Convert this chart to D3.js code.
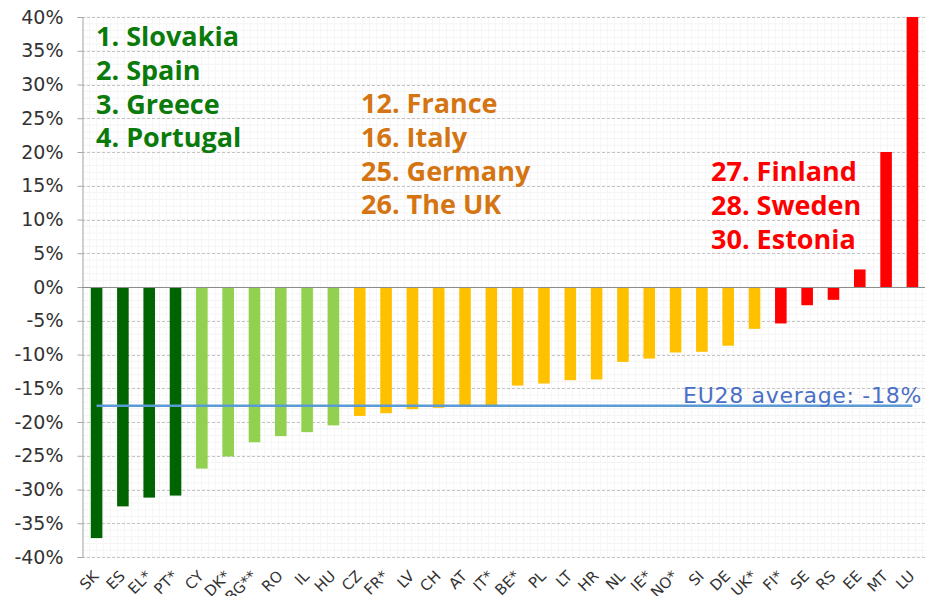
<!DOCTYPE html>
<html>
<head>
<meta charset="utf-8">
<script src="https://cdn.jsdelivr.net/npm/d3@7"></script>
<style>
  html, body { margin: 0; padding: 0; background: #fff; }
  svg { display: block; }
</style>
</head>
<body>
<svg id="chart" width="927" height="596"></svg>
<script>
// ---- data ----
const categories = ["SK","ES","EL*","PT*","CY","DK*","BG**","RO","IL","HU","CZ","FR*","LV","CH","AT","IT*","BE*","PL","LT","HR","NL","IE*","NO*","SI","DE","UK*","FI*","SE","RS","EE","MT","LU"];
const values = [-37.2,-32.5,-31.2,-30.9,-26.9,-25.1,-23.0,-22.1,-21.5,-20.5,-19.1,-18.7,-18.1,-17.9,-17.6,-17.6,-14.6,-14.3,-13.8,-13.7,-11.1,-10.6,-9.7,-9.6,-8.7,-6.2,-5.4,-2.7,-1.9,2.6,20.0,40.0];
const groups = ["top","top","top","top","good","good","good","good","good","good","mid","mid","mid","mid","mid","mid","mid","mid","mid","mid","mid","mid","mid","mid","mid","mid","low","low","low","low","low","low"];
const yTicks = [40,35,30,25,20,15,10,5,0,-5,-10,-15,-20,-25,-30,-35,-40];
const euAverage = -17.6;
const euLabel = "EU28 average: -18%";
const legendTop = ["1. Slovakia","2. Spain","3. Greece","4. Portugal"];
const legendMid = ["12. France","16. Italy","25. Germany","26. The UK"];
const legendLow = ["27. Finland","28. Sweden","30. Estonia"];

const colors = {top:"#006400", good:"#92d050", mid:"#ffc000", low:"#ff0000"};

const svg = d3.select("#chart");
const x = d3.scaleBand().domain(categories).range([85, 924]).paddingInner(0.56).paddingOuter(0.22);
const y = d3.scaleLinear().domain([-40, 40]).range([557, 17]);
const left = 82, right = 925;

// minor faint grid
const minor = d3.range(-40, 40.01, 1);
svg.append("g").selectAll("line").data(minor).join("line")
  .attr("x1", left).attr("x2", right)
  .attr("y1", d => y(d)).attr("y2", d => y(d))
  .attr("stroke", "#f4f4f4").attr("stroke-width", 1);
const vminor = d3.range(left, right, 7);
svg.append("g").selectAll("line").data(vminor).join("line")
  .attr("x1", d => d + 0.5).attr("x2", d => d + 0.5)
  .attr("y1", 17).attr("y2", 557)
  .attr("stroke", "#f6f6f6").attr("stroke-width", 1);

// major grid
svg.append("g").selectAll("line").data(yTicks.filter(d => d !== 0)).join("line")
  .attr("x1", left).attr("x2", right)
  .attr("y1", d => Math.round(y(d)) + 0.5).attr("y2", d => Math.round(y(d)) + 0.5)
  .attr("stroke", "#c4c4c4").attr("stroke-width", 1).attr("stroke-dasharray", "3,2");

// y axis
const yAxis = d3.axisLeft(y).tickValues(yTicks).tickSize(5).tickFormat(d => d + "%");
const ga = svg.append("g").attr("transform", `translate(${left + 0.5},0)`).call(yAxis);
ga.select(".domain").attr("stroke", "#a6a6a6");
ga.selectAll(".tick line").attr("stroke", "#a6a6a6");
ga.selectAll(".tick text").attr("x", -19).attr("fill", "#333")
  .style("font-family", "'DejaVu Sans', Verdana, sans-serif").style("font-size", "19px");

// bars
svg.append("g").selectAll("rect").data(categories).join("rect")
  .attr("x", d => x(d))
  .attr("width", x.bandwidth())
  .attr("y", (d, i) => y(Math.max(0, values[i])))
  .attr("height", (d, i) => Math.abs(y(values[i]) - y(0)))
  .attr("fill", (d, i) => colors[groups[i]]);

// zero line
svg.append("line").attr("x1", left).attr("x2", right)
  .attr("y1", y(0) + 0.5).attr("y2", y(0) + 0.5)
  .attr("stroke", "#8c8c8c").attr("stroke-width", 1.2);

// x labels
svg.append("g").selectAll("text").data(categories).join("text")
  .attr("transform", d => `translate(${x(d) + x.bandwidth()/2 + 3},${577}) rotate(-45)`)
  .attr("text-anchor", "end")
  .attr("fill", "#333")
  .style("font-family", "'DejaVu Sans', Verdana, sans-serif").style("font-size", "15px")
  .text(d => d);

// average line
svg.append("line")
  .attr("x1", x(categories[0]) + x.bandwidth()/2)
  .attr("x2", x(categories[categories.length-1]) + x.bandwidth()/2)
  .attr("y1", y(euAverage)).attr("y2", y(euAverage))
  .attr("stroke", "#5b9bd5").attr("stroke-width", 2.5);

svg.append("text").attr("x", 922).attr("y", 403).attr("text-anchor", "end")
  .attr("fill", "#4a6fc7")
  .style("font-family", "'DejaVu Sans', Verdana, sans-serif").style("font-size", "22px")
  .style("letter-spacing", "0.7px")
  .text(euLabel);

// legend texts
function legend(lines, x0, y0, color) {
  svg.append("g").selectAll("text").data(lines).join("text")
    .attr("x", x0).attr("y", (d, i) => y0 + i * 33.8)
    .attr("fill", color)
    .style("font-family", "'Open Sans', 'Noto Sans', sans-serif")
    .style("font-weight", "700").style("font-size", "27px")
    .text(d => d);
}
legend(legendTop, 96, 46, "#0a7a0a");
legend(legendMid, 361, 113, "#d47512");
legend(legendLow, 711, 181, "#ff0000");
</script>
</body>
</html>
